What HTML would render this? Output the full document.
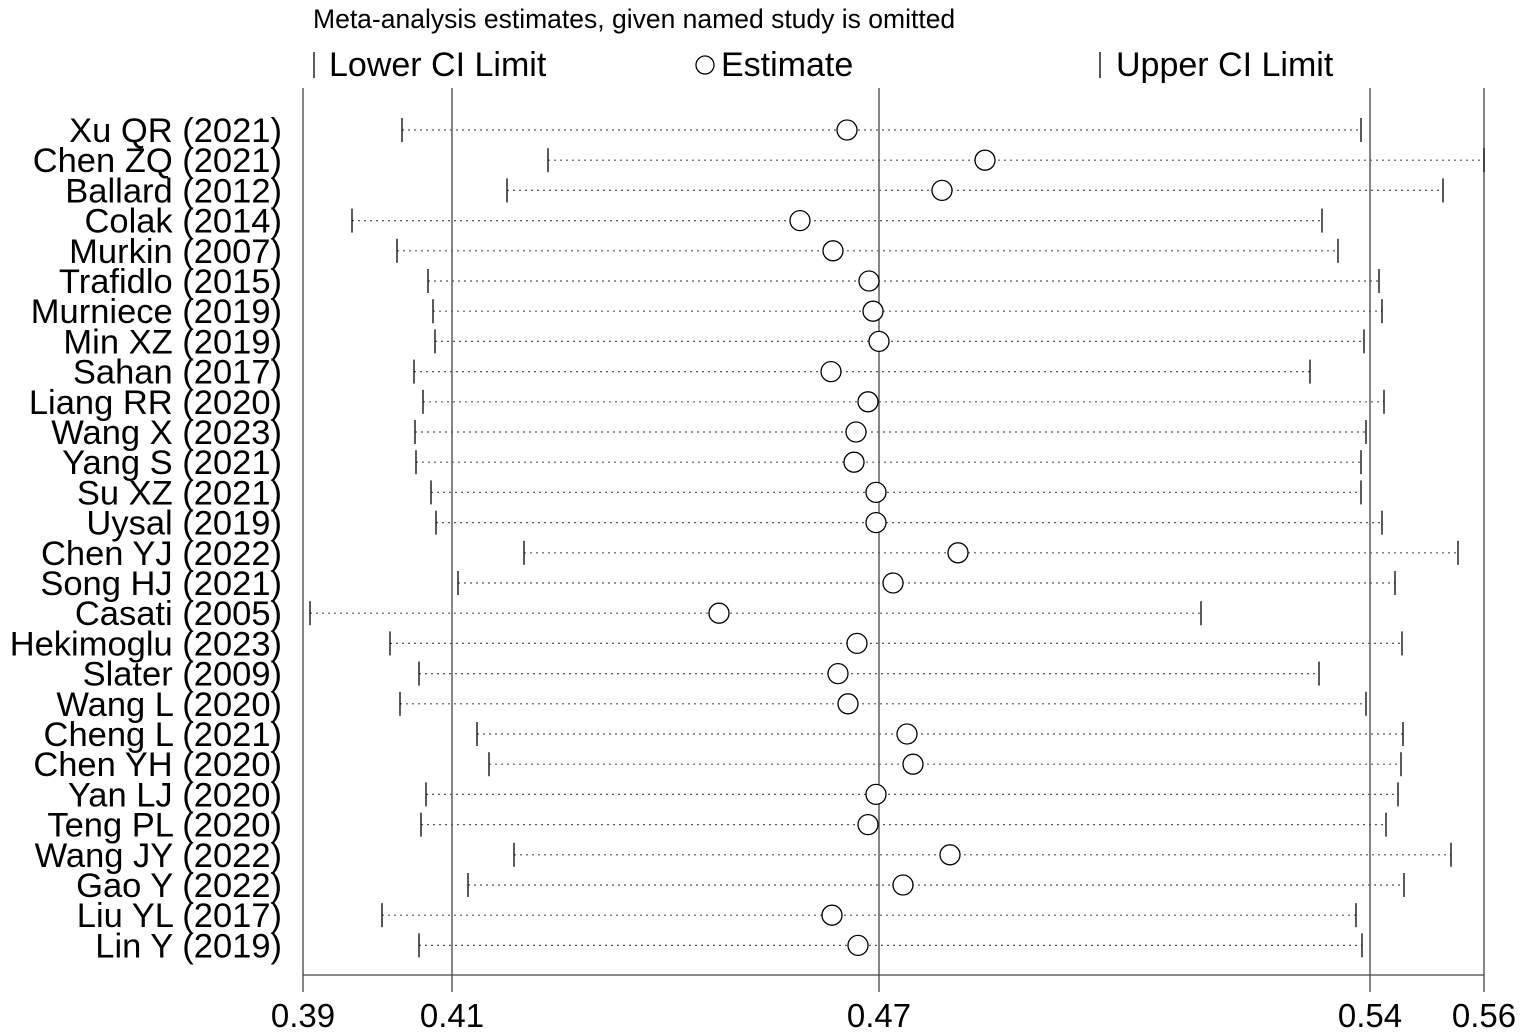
<!DOCTYPE html>
<html><head><meta charset="utf-8"><style>
html,body{margin:0;padding:0;background:#fff;}
svg{display:block;font-family:"Liberation Sans",Arial,sans-serif;}
</style></head><body>
<svg width="1535" height="1034" xmlns="http://www.w3.org/2000/svg">
<rect width="1535" height="1034" fill="#fff"/>
<text x="313" y="28" font-size="26.5" fill="#000">Meta-analysis estimates, given named study is omitted</text>
<line x1="314" y1="52" x2="314" y2="78" stroke="#000" stroke-width="1.3"/>
<text x="329" y="76" font-size="34">Lower CI Limit</text>
<circle cx="705" cy="65" r="9" fill="none" stroke="#000" stroke-width="1.3"/>
<text x="721" y="76" font-size="34">Estimate</text>
<line x1="1100" y1="52" x2="1100" y2="78" stroke="#000" stroke-width="1.3"/>
<text x="1116" y="76" font-size="34">Upper CI Limit</text>
<g stroke="#444" stroke-width="1.3">
<line x1="303" y1="88" x2="303" y2="975"/>
<line x1="452" y1="88" x2="452" y2="975"/>
<line x1="879" y1="88" x2="879" y2="975"/>
<line x1="1370" y1="88" x2="1370" y2="975"/>
<line x1="1484" y1="88" x2="1484" y2="975"/>
<line x1="303" y1="975" x2="1484" y2="975"/>
<line x1="303" y1="975" x2="303" y2="992"/>
<line x1="452" y1="975" x2="452" y2="992"/>
<line x1="879" y1="975" x2="879" y2="992"/>
<line x1="1370" y1="975" x2="1370" y2="992"/>
<line x1="1484" y1="975" x2="1484" y2="992"/>
</g>
<g font-size="33" text-anchor="middle">
<text x="303" y="1027">0.39</text><text x="452" y="1027">0.41</text><text x="879" y="1027">0.47</text><text x="1370" y="1027">0.54</text><text x="1484" y="1027">0.56</text>
</g>
<g font-size="34.5" text-anchor="end">
<text x="282" y="142">Xu QR (2021)</text>
<text x="282" y="172.2">Chen ZQ (2021)</text>
<text x="282" y="202.4">Ballard (2012)</text>
<text x="282" y="232.6">Colak (2014)</text>
<text x="282" y="262.8">Murkin (2007)</text>
<text x="282" y="293">Trafidlo (2015)</text>
<text x="282" y="323.2">Murniece (2019)</text>
<text x="282" y="353.4">Min XZ (2019)</text>
<text x="282" y="383.6">Sahan (2017)</text>
<text x="282" y="413.8">Liang RR (2020)</text>
<text x="282" y="444">Wang X (2023)</text>
<text x="282" y="474.2">Yang S (2021)</text>
<text x="282" y="504.4">Su XZ (2021)</text>
<text x="282" y="534.6">Uysal (2019)</text>
<text x="282" y="564.8">Chen YJ (2022)</text>
<text x="282" y="595">Song HJ (2021)</text>
<text x="282" y="625.2">Casati (2005)</text>
<text x="282" y="655.4">Hekimoglu (2023)</text>
<text x="282" y="685.6">Slater (2009)</text>
<text x="282" y="715.8">Wang L (2020)</text>
<text x="282" y="746">Cheng L (2021)</text>
<text x="282" y="776.2">Chen YH (2020)</text>
<text x="282" y="806.4">Yan LJ (2020)</text>
<text x="282" y="836.6">Teng PL (2020)</text>
<text x="282" y="866.8">Wang JY (2022)</text>
<text x="282" y="897">Gao Y (2022)</text>
<text x="282" y="927.2">Liu YL (2017)</text>
<text x="282" y="957.4">Lin Y (2019)</text>
</g>
<g stroke="#555" stroke-width="1.2" stroke-dasharray="2,4">
<line x1="402" y1="130" x2="1361" y2="130"/>
<line x1="548" y1="160.2" x2="1484" y2="160.2"/>
<line x1="507" y1="190.4" x2="1443" y2="190.4"/>
<line x1="352" y1="220.6" x2="1322" y2="220.6"/>
<line x1="397" y1="250.8" x2="1338" y2="250.8"/>
<line x1="428" y1="281" x2="1379" y2="281"/>
<line x1="433" y1="311.2" x2="1382" y2="311.2"/>
<line x1="435" y1="341.4" x2="1364" y2="341.4"/>
<line x1="414" y1="371.6" x2="1310" y2="371.6"/>
<line x1="423" y1="401.8" x2="1384" y2="401.8"/>
<line x1="415" y1="432" x2="1366" y2="432"/>
<line x1="416" y1="462.2" x2="1361" y2="462.2"/>
<line x1="431" y1="492.4" x2="1361" y2="492.4"/>
<line x1="436" y1="522.6" x2="1382" y2="522.6"/>
<line x1="524" y1="552.8" x2="1458" y2="552.8"/>
<line x1="458" y1="583" x2="1395" y2="583"/>
<line x1="310" y1="613.2" x2="1201" y2="613.2"/>
<line x1="390" y1="643.4" x2="1402" y2="643.4"/>
<line x1="419" y1="673.6" x2="1319" y2="673.6"/>
<line x1="400" y1="703.8" x2="1366" y2="703.8"/>
<line x1="477" y1="734" x2="1403" y2="734"/>
<line x1="489" y1="764.2" x2="1401" y2="764.2"/>
<line x1="426" y1="794.4" x2="1398" y2="794.4"/>
<line x1="421" y1="824.6" x2="1386" y2="824.6"/>
<line x1="514" y1="854.8" x2="1451" y2="854.8"/>
<line x1="468" y1="885" x2="1404" y2="885"/>
<line x1="382" y1="915.2" x2="1356" y2="915.2"/>
<line x1="419" y1="945.4" x2="1362" y2="945.4"/>
</g>
<g stroke="#000" stroke-width="1.3">
<line x1="402" y1="118" x2="402" y2="142"/><line x1="1361" y1="118" x2="1361" y2="142"/>
<line x1="548" y1="148.2" x2="548" y2="172.2"/><line x1="1484" y1="148.2" x2="1484" y2="172.2"/>
<line x1="507" y1="178.4" x2="507" y2="202.4"/><line x1="1443" y1="178.4" x2="1443" y2="202.4"/>
<line x1="352" y1="208.6" x2="352" y2="232.6"/><line x1="1322" y1="208.6" x2="1322" y2="232.6"/>
<line x1="397" y1="238.8" x2="397" y2="262.8"/><line x1="1338" y1="238.8" x2="1338" y2="262.8"/>
<line x1="428" y1="269" x2="428" y2="293"/><line x1="1379" y1="269" x2="1379" y2="293"/>
<line x1="433" y1="299.2" x2="433" y2="323.2"/><line x1="1382" y1="299.2" x2="1382" y2="323.2"/>
<line x1="435" y1="329.4" x2="435" y2="353.4"/><line x1="1364" y1="329.4" x2="1364" y2="353.4"/>
<line x1="414" y1="359.6" x2="414" y2="383.6"/><line x1="1310" y1="359.6" x2="1310" y2="383.6"/>
<line x1="423" y1="389.8" x2="423" y2="413.8"/><line x1="1384" y1="389.8" x2="1384" y2="413.8"/>
<line x1="415" y1="420" x2="415" y2="444"/><line x1="1366" y1="420" x2="1366" y2="444"/>
<line x1="416" y1="450.2" x2="416" y2="474.2"/><line x1="1361" y1="450.2" x2="1361" y2="474.2"/>
<line x1="431" y1="480.4" x2="431" y2="504.4"/><line x1="1361" y1="480.4" x2="1361" y2="504.4"/>
<line x1="436" y1="510.6" x2="436" y2="534.6"/><line x1="1382" y1="510.6" x2="1382" y2="534.6"/>
<line x1="524" y1="540.8" x2="524" y2="564.8"/><line x1="1458" y1="540.8" x2="1458" y2="564.8"/>
<line x1="458" y1="571" x2="458" y2="595"/><line x1="1395" y1="571" x2="1395" y2="595"/>
<line x1="310" y1="601.2" x2="310" y2="625.2"/><line x1="1201" y1="601.2" x2="1201" y2="625.2"/>
<line x1="390" y1="631.4" x2="390" y2="655.4"/><line x1="1402" y1="631.4" x2="1402" y2="655.4"/>
<line x1="419" y1="661.6" x2="419" y2="685.6"/><line x1="1319" y1="661.6" x2="1319" y2="685.6"/>
<line x1="400" y1="691.8" x2="400" y2="715.8"/><line x1="1366" y1="691.8" x2="1366" y2="715.8"/>
<line x1="477" y1="722" x2="477" y2="746"/><line x1="1403" y1="722" x2="1403" y2="746"/>
<line x1="489" y1="752.2" x2="489" y2="776.2"/><line x1="1401" y1="752.2" x2="1401" y2="776.2"/>
<line x1="426" y1="782.4" x2="426" y2="806.4"/><line x1="1398" y1="782.4" x2="1398" y2="806.4"/>
<line x1="421" y1="812.6" x2="421" y2="836.6"/><line x1="1386" y1="812.6" x2="1386" y2="836.6"/>
<line x1="514" y1="842.8" x2="514" y2="866.8"/><line x1="1451" y1="842.8" x2="1451" y2="866.8"/>
<line x1="468" y1="873" x2="468" y2="897"/><line x1="1404" y1="873" x2="1404" y2="897"/>
<line x1="382" y1="903.2" x2="382" y2="927.2"/><line x1="1356" y1="903.2" x2="1356" y2="927.2"/>
<line x1="419" y1="933.4" x2="419" y2="957.4"/><line x1="1362" y1="933.4" x2="1362" y2="957.4"/>
</g>
<g fill="#fff" stroke="#000" stroke-width="1.3">
<circle cx="847" cy="130" r="10"/>
<circle cx="985" cy="160.2" r="10"/>
<circle cx="942" cy="190.4" r="10"/>
<circle cx="800" cy="220.6" r="10"/>
<circle cx="833" cy="250.8" r="10"/>
<circle cx="869" cy="281" r="10"/>
<circle cx="873" cy="311.2" r="10"/>
<circle cx="879" cy="341.4" r="10"/>
<circle cx="831" cy="371.6" r="10"/>
<circle cx="868" cy="401.8" r="10"/>
<circle cx="856" cy="432" r="10"/>
<circle cx="854" cy="462.2" r="10"/>
<circle cx="876" cy="492.4" r="10"/>
<circle cx="876" cy="522.6" r="10"/>
<circle cx="958" cy="552.8" r="10"/>
<circle cx="893" cy="583" r="10"/>
<circle cx="719" cy="613.2" r="10"/>
<circle cx="857" cy="643.4" r="10"/>
<circle cx="838" cy="673.6" r="10"/>
<circle cx="848" cy="703.8" r="10"/>
<circle cx="907" cy="734" r="10"/>
<circle cx="913" cy="764.2" r="10"/>
<circle cx="876" cy="794.4" r="10"/>
<circle cx="868" cy="824.6" r="10"/>
<circle cx="950" cy="854.8" r="10"/>
<circle cx="903" cy="885" r="10"/>
<circle cx="832" cy="915.2" r="10"/>
<circle cx="858" cy="945.4" r="10"/>
</g>
</svg>
</body></html>
